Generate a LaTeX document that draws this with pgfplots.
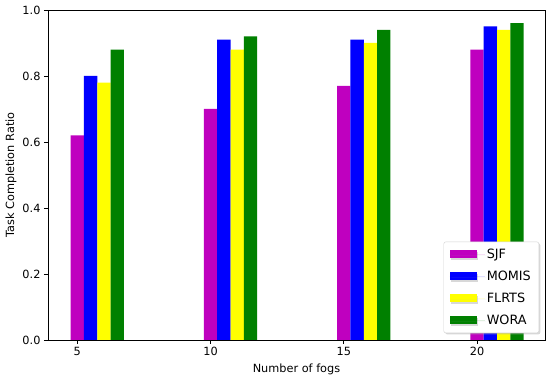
\documentclass[border=0pt]{standalone}
\usepackage{pgfplots}
\pgfplotsset{compat=1.18}
\usepackage{fontspec}
\setmainfont{DejaVu Sans}
\usetikzlibrary{shadows}
\definecolor{cM}{rgb}{0.75,0,0.75}
\definecolor{cB}{rgb}{0,0,1}
\definecolor{cY}{rgb}{1,1,0}
\definecolor{cG}{rgb}{0,0.5,0}
\begin{document}
\begin{tikzpicture}
\useasboundingbox (-48pt,-37pt) rectangle (502pt,340pt);
\begin{axis}[
  scale only axis,
  width=497pt, height=330pt,
  xmin=3.9, xmax=22.55,
  ymin=0, ymax=1.0,
  xtick={5,10,15,20},
  ytick={0,0.2,0.4,0.6,0.8,1.0},
  yticklabel style={/pgf/number format/.cd,fixed,fixed zerofill,precision=1},
  /pgf/number format/assume math mode=true,
  tick align=outside, tick pos=left,
  major tick length=4pt,
  axis line style={black, line width=0.8pt},
  every tick/.style={black, line width=0.8pt},
  tick label style={font=\fontsize{11.3}{13}\selectfont},
  label style={font=\fontsize{11.3}{13}\selectfont},
  xlabel={Number of fogs},
  ylabel={Task Completion Ratio},
  xlabel style={at={(axis description cs:0.5,-0.088)}, anchor=center},
  ylabel style={at={(axis description cs:-0.0744,0.5)}, anchor=center, rotate=0},
  ybar, bar width=0.5,
  legend style={at={(axis description cs:0.988,0.021)}, anchor=south east,
    font=\fontsize{12.8}{15}\selectfont, draw=gray!35, rounded corners=2pt,
    fill=white, row sep=7pt, inner xsep=6pt, inner ysep=5pt,
    drop shadow={shadow xshift=1.5pt, shadow yshift=-1.5pt, fill=gray!60, opacity=0.5}},
  legend cell align=left,
  legend image code/.code={\fill[#1, sharp corners] (0pt,-4pt) rectangle (27pt,4pt); \path (0pt,0pt) -- (35pt,0pt);},
]
\addplot[fill=cM, draw=none, bar shift=0] coordinates {(5,0.62) (10,0.70) (15,0.77) (20,0.88)};
\addplot[fill=cB, draw=none, bar shift=0.5] coordinates {(5,0.80) (10,0.91) (15,0.91) (20,0.95)};
\addplot[fill=cY, draw=none, bar shift=1.0] coordinates {(5,0.78) (10,0.88) (15,0.90) (20,0.94)};
\addplot[fill=cG, draw=none, bar shift=1.5] coordinates {(5,0.88) (10,0.92) (15,0.94) (20,0.96)};
\legend{SJF,MOMIS,FLRTS,WORA}
\end{axis}
\end{tikzpicture}
\end{document}
